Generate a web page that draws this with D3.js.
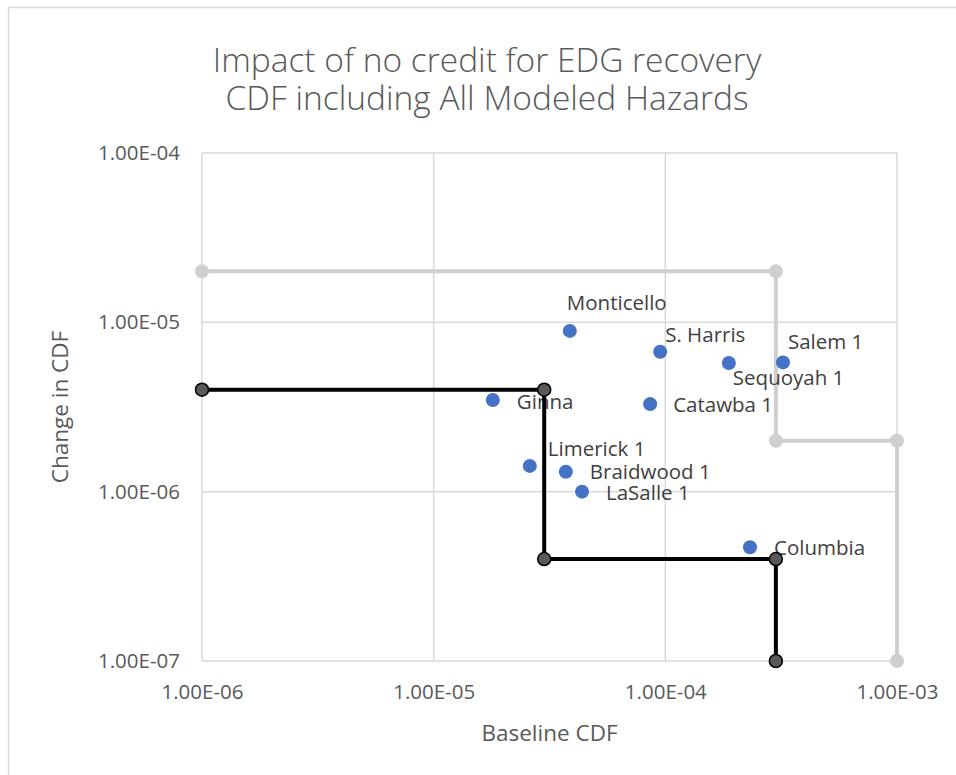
<!DOCTYPE html>
<html>
<head>
<meta charset="utf-8">
<script src="https://cdn.jsdelivr.net/npm/d3@7"></script>
<style>
  body { margin: 0; background: #fff; }
  text { font-family: "Open Sans", sans-serif; }
</style>
</head>
<body>
<div id="chart"></div>
<script>
var plants = ["Monticello", "S. Harris", "Salem 1", "Sequoyah 1", "Ginna", "Catawba 1",
              "Limerick 1", "Braidwood 1", "LaSalle 1", "Columbia"];
var baselineCDF = [3.87e-5, 9.5e-5, 3.22e-4, 1.88e-4, 1.8e-5, 8.6e-5, 2.6e-5, 3.72e-5, 4.37e-5, 2.32e-4];
var changeCDF = [8.9e-6, 6.7e-6, 5.8e-6, 5.75e-6, 3.48e-6, 3.29e-6, 1.42e-6, 1.31e-6, 1.0e-6, 4.7e-7];

// region boundaries (step lines)
var greyX = [1e-6, 3e-4, 3e-4, 1e-3, 1e-3];
var greyY = [2e-5, 2e-5, 2e-6, 2e-6, 1e-7];
var blackX = [1e-6, 3e-5, 3e-5, 3e-4, 3e-4];
var blackY = [4e-6, 4e-6, 4e-7, 4e-7, 1e-7];

var xTicks = [1e-6, 1e-5, 1e-4, 1e-3];
var xTickLabels = ["1.00E-06", "1.00E-05", "1.00E-04", "1.00E-03"];
var yTicks = [1e-7, 1e-6, 1e-5, 1e-4];
var yTickLabels = ["1.00E-07", "1.00E-06", "1.00E-05", "1.00E-04"];

// label offsets from each point (dx, dy to text baseline)
var labelDx = [-3, 5, 5, 4, 24, 23, 18, 24, 24, 24];
var labelDy = [-21, -10, -13, 22, 9, 8, -10, 7, 8, 8];

var width = 956, height = 775;
var margins = {top: 153, right: 59, bottom: 114, left: 202};

var svg = d3.select('#chart')
  .append('svg')
  .attr('width', width)
  .attr('height', height);

// chart area border
svg.append('rect')
  .attr('x', 8.5).attr('y', 7.5)
  .attr('width', 1000).attr('height', 1000)
  .attr('fill', 'none')
  .attr('stroke', '#d9d9d9')
  .attr('stroke-width', 1.5);

var x = d3.scaleLog()
  .domain([1e-6, 1e-3])
  .range([margins.left, width - margins.right]);

var y = d3.scaleLog()
  .domain([1e-7, 1e-4])
  .range([height - margins.bottom, margins.top]);

/* gridlines */
var grid = svg.append('g').attr('class', 'grid');
grid.selectAll('.vline')
  .data(xTicks)
  .enter().append('line')
  .attr('x1', function(d) { return x(d); })
  .attr('x2', function(d) { return x(d); })
  .attr('y1', y(1e-7)).attr('y2', y(1e-4))
  .attr('stroke', '#d9d9d9').attr('stroke-width', 1.5);
grid.selectAll('.hline')
  .data(yTicks)
  .enter().append('line')
  .attr('y1', function(d) { return y(d); })
  .attr('y2', function(d) { return y(d); })
  .attr('x1', x(1e-6)).attr('x2', x(1e-3))
  .attr('stroke', '#d9d9d9').attr('stroke-width', 1.5);

/* axes */
var xAxis = svg.append('g')
  .attr('transform', 'translate(0,' + y(1e-7) + ')')
  .call(d3.axisBottom(x).tickValues(xTicks).tickSize(0).tickPadding(23)
    .tickFormat(function(d, i) { return xTickLabels[i]; }));
var yAxis = svg.append('g')
  .attr('transform', 'translate(' + x(1e-6) + ',0)')
  .call(d3.axisLeft(y).tickValues(yTicks).tickSize(0).tickPadding(22)
    .tickFormat(function(d, i) { return yTickLabels[i]; }));
[xAxis, yAxis].forEach(function(a) {
  a.select('.domain').remove();
  a.selectAll('text')
    .attr('font-family', '"Open Sans", sans-serif')
    .attr('font-size', 20.5)
    .attr('fill', '#595959');
});

/* axis titles */
svg.append('text')
  .attr('x', (x(1e-6) + x(1e-3)) / 2)
  .attr('y', 741)
  .attr('text-anchor', 'middle')
  .attr('font-size', 22.5)
  .attr('fill', '#595959')
  .text('Baseline CDF');
svg.append('text')
  .attr('transform', 'translate(68,' + ((y(1e-7) + y(1e-4)) / 2) + ') rotate(-90)')
  .attr('text-anchor', 'middle')
  .attr('font-size', 22.5)
  .attr('fill', '#595959')
  .text('Change in CDF');

/* title */
var title = svg.append('text')
  .attr('text-anchor', 'middle')
  .attr('font-size', 33.5)
  .attr('font-weight', 300)
  .attr('fill', '#595959');
title.append('tspan').attr('x', 487).attr('y', 72).text('Impact of no credit for EDG recovery');
title.append('tspan').attr('x', 487).attr('y', 110).text('CDF including All Modeled Hazards');

var lineFunc = d3.line()
  .x(function(d) { return x(d[0]); })
  .y(function(d) { return y(d[1]); });

/* grey region line */
var greyPts = d3.zip(greyX, greyY);
svg.append('path')
  .attr('d', lineFunc(greyPts))
  .attr('fill', 'none')
  .attr('stroke', '#d0cece')
  .attr('stroke-width', 4);
svg.selectAll('.greyDot')
  .data(greyPts)
  .enter().append('circle')
  .attr('cx', function(d) { return x(d[0]); })
  .attr('cy', function(d) { return y(d[1]); })
  .attr('r', 7)
  .attr('fill', '#d0cece');

/* plant points */
var pts = d3.range(plants.length);
svg.selectAll('.plant')
  .data(pts)
  .enter().append('circle')
  .attr('cx', function(i) { return x(baselineCDF[i]); })
  .attr('cy', function(i) { return y(changeCDF[i]); })
  .attr('r', 7)
  .attr('fill', '#4472c4');
svg.selectAll('.plantLabel')
  .data(pts)
  .enter().append('text')
  .attr('x', function(i) { return x(baselineCDF[i]) + labelDx[i]; })
  .attr('y', function(i) { return y(changeCDF[i]) + labelDy[i]; })
  .attr('font-size', 20.5)
  .attr('fill', '#404040')
  .text(function(i) { return plants[i]; });

/* black region line */
var blackPts = d3.zip(blackX, blackY);
svg.append('path')
  .attr('d', lineFunc(blackPts))
  .attr('fill', 'none')
  .attr('stroke', '#000')
  .attr('stroke-width', 4);
svg.selectAll('.blackDot')
  .data(blackPts)
  .enter().append('circle')
  .attr('cx', function(d) { return x(d[0]); })
  .attr('cy', function(d) { return y(d[1]); })
  .attr('r', 6.5)
  .attr('fill', '#595959')
  .attr('stroke', '#000')
  .attr('stroke-width', 1.5);
</script>
</body>
</html>
